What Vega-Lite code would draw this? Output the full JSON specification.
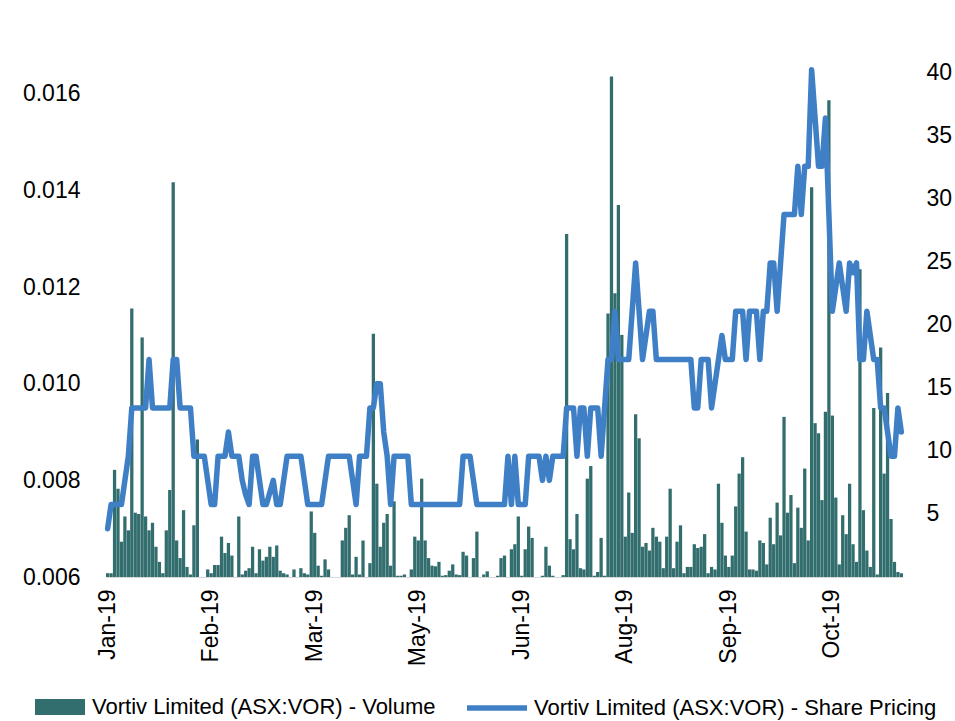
{
  "$schema": "https://vega.github.io/schema/vega-lite/v6.json",
  "width": 797,
  "height": 517,
  "autosize": {"type": "none"},
  "padding": {"left": 106, "top": 60, "right": 52, "bottom": 144},
  "background": "#ffffff",
  "config": {
    "view": {"stroke": null},
    "axis": {"labelFont": "Liberation Sans", "labelFontSize": 23, "labelColor": "#000000", "ticks": false, "grid": false, "domain": false, "title": null},
    "legend": {"labelFont": "Liberation Sans", "labelFontSize": 22, "labelColor": "#000000", "labelLimit": 1000, "padding": 0, "title": null, "orient": "none"}
  },
  "data": {"values": [
    {"i":0,"v":0.3,"p":0.007},{"i":1,"v":0.3,"p":0.0075},{"i":2,"v":8.5,"p":0.0075},{"i":3,"v":7.0,"p":0.0075},{"i":4,"v":2.8,"p":0.0075},
    {"i":5,"v":4.8,"p":0.008},{"i":6,"v":3.7,"p":0.0085},{"i":7,"v":21.3,"p":0.0095},{"i":8,"v":5.1,"p":0.0095},{"i":9,"v":5.0,"p":0.0095},
    {"i":10,"v":19.0,"p":0.0095},{"i":11,"v":4.8,"p":0.0095},{"i":12,"v":3.7,"p":0.0105},{"i":13,"v":4.3,"p":0.0095},{"i":14,"v":2.4,"p":0.0095},
    {"i":15,"v":1.2,"p":0.0095},{"i":16,"v":0.3,"p":0.0095},{"i":17,"v":3.7,"p":0.0095},{"i":18,"v":6.9,"p":0.0095},{"i":19,"v":31.3,"p":0.0105},
    {"i":20,"v":2.9,"p":0.0105},{"i":21,"v":1.5,"p":0.0095},{"i":22,"v":5.3,"p":0.0095},{"i":23,"v":0.8,"p":0.0095},{"i":24,"v":0.2,"p":0.0095},
    {"i":25,"v":4.1,"p":0.0085},{"i":26,"v":10.9,"p":0.0085},{"i":27,"v":0,"p":0.0085},{"i":28,"v":0,"p":0.0085},{"i":29,"v":0.6,"p":0.008},
    {"i":30,"v":0.3,"p":0.0075},{"i":31,"v":0.95,"p":0.0075},{"i":32,"v":0.95,"p":0.0085},{"i":33,"v":3.2,"p":0.0085},{"i":34,"v":1.9,"p":0.0085},
    {"i":35,"v":2.7,"p":0.009},{"i":36,"v":1.7,"p":0.0085},{"i":37,"v":0,"p":0.0085},{"i":38,"v":4.8,"p":0.0085},{"i":39,"v":0.2,"p":0.008},
    {"i":40,"v":0.5,"p":0.0077},{"i":41,"v":0.7,"p":0.0075},{"i":42,"v":2.4,"p":0.0085},{"i":43,"v":0.3,"p":0.0085},{"i":44,"v":2.2,"p":0.008},
    {"i":45,"v":1.3,"p":0.0075},{"i":46,"v":1.6,"p":0.0075},{"i":47,"v":2.4,"p":0.00775},{"i":48,"v":1.6,"p":0.008},{"i":49,"v":2.5,"p":0.0075},
    {"i":50,"v":0.5,"p":0.0075},{"i":51,"v":0.3,"p":0.008},{"i":52,"v":0.2,"p":0.0085},{"i":53,"v":0,"p":0.0085},{"i":54,"v":0.6,"p":0.0085},
    {"i":55,"v":0,"p":0.0085},{"i":56,"v":0.7,"p":0.0085},{"i":57,"v":0.3,"p":0.008},{"i":58,"v":0.2,"p":0.0075},{"i":59,"v":5.2,"p":0.0075},
    {"i":60,"v":3.5,"p":0.0075},{"i":61,"v":0.9,"p":0.0075},{"i":62,"v":0.1,"p":0.0075},{"i":63,"v":1.4,"p":0.008},{"i":64,"v":0.6,"p":0.0085},
    {"i":65,"v":0,"p":0.0085},{"i":66,"v":0,"p":0.0085},{"i":67,"v":0,"p":0.0085},{"i":68,"v":2.9,"p":0.0085},{"i":69,"v":3.9,"p":0.0085},
    {"i":70,"v":4.9,"p":0.0085},{"i":71,"v":0.2,"p":0.008},{"i":72,"v":1.6,"p":0.0075},{"i":73,"v":0.2,"p":0.0085},{"i":74,"v":2.9,"p":0.0085},
    {"i":75,"v":0,"p":0.0085},{"i":76,"v":1.1,"p":0.0095},{"i":77,"v":19.3,"p":0.0095},{"i":78,"v":7.4,"p":0.01},{"i":79,"v":2.4,"p":0.01},
    {"i":80,"v":4.3,"p":0.009},{"i":81,"v":5.0,"p":0.0085},{"i":82,"v":0.9,"p":0.0075},{"i":83,"v":6.0,"p":0.0085},{"i":84,"v":0.1,"p":0.0085},
    {"i":85,"v":0.1,"p":0.0085},{"i":86,"v":0.2,"p":0.0085},{"i":87,"v":0,"p":0.0085},{"i":88,"v":0.6,"p":0.0075},{"i":89,"v":3.2,"p":0.0075},
    {"i":90,"v":2.9,"p":0.0075},{"i":91,"v":7.8,"p":0.0075},{"i":92,"v":2.9,"p":0.0075},{"i":93,"v":1.5,"p":0.0075},{"i":94,"v":0.9,"p":0.0075},
    {"i":95,"v":0.85,"p":0.0075},{"i":96,"v":1.2,"p":0.0075},{"i":97,"v":0.1,"p":0.0075},{"i":98,"v":0.15,"p":0.0075},{"i":99,"v":0.5,"p":0.0075},
    {"i":100,"v":1.0,"p":0.0075},{"i":101,"v":0.2,"p":0.0075},{"i":102,"v":0.15,"p":0.0075},{"i":103,"v":2.0,"p":0.0085},{"i":104,"v":1.7,"p":0.0085},
    {"i":105,"v":0,"p":0.0085},{"i":106,"v":1.5,"p":0.008},{"i":107,"v":3.6,"p":0.0075},{"i":108,"v":0,"p":0.0075},{"i":109,"v":0.2,"p":0.0075},
    {"i":110,"v":0.45,"p":0.0075},{"i":111,"v":0,"p":0.0075},{"i":112,"v":0,"p":0.0075},{"i":113,"v":0.1,"p":0.0075},{"i":114,"v":1.5,"p":0.0075},
    {"i":115,"v":1.7,"p":0.0075},{"i":116,"v":0,"p":0.0085},{"i":117,"v":2.2,"p":0.0075},{"i":118,"v":2.6,"p":0.0085},{"i":119,"v":4.8,"p":0.0075},
    {"i":120,"v":0.1,"p":0.0075},{"i":121,"v":2.2,"p":0.0075},{"i":122,"v":4.0,"p":0.0085},{"i":123,"v":3.1,"p":0.0085},{"i":124,"v":0,"p":0.0085},
    {"i":125,"v":0,"p":0.0085},{"i":126,"v":0.1,"p":0.008},{"i":127,"v":2.4,"p":0.0085},{"i":128,"v":0.9,"p":0.008},{"i":129,"v":0.1,"p":0.0085},
    {"i":130,"v":0,"p":0.0085},{"i":131,"v":0,"p":0.0085},{"i":132,"v":0.15,"p":0.0085},{"i":133,"v":27.2,"p":0.0095},{"i":134,"v":3.0,"p":0.0095},
    {"i":135,"v":2.2,"p":0.0095},{"i":136,"v":5.0,"p":0.0085},{"i":137,"v":0.7,"p":0.0095},{"i":138,"v":0.6,"p":0.0095},{"i":139,"v":7.8,"p":0.0085},
    {"i":140,"v":8.8,"p":0.0095},{"i":141,"v":0.1,"p":0.0095},{"i":142,"v":0.4,"p":0.0095},{"i":143,"v":3.1,"p":0.0085},{"i":144,"v":0.1,"p":0.0095},
    {"i":145,"v":20.9,"p":0.0105},{"i":146,"v":39.7,"p":0.0105},{"i":147,"v":22.5,"p":0.0115},{"i":148,"v":29.5,"p":0.0105},{"i":149,"v":19.2,"p":0.0105},
    {"i":150,"v":3.2,"p":0.0105},{"i":151,"v":6.7,"p":0.0105},{"i":152,"v":3.5,"p":0.0115},{"i":153,"v":12.9,"p":0.0125},{"i":154,"v":11.0,"p":0.0115},
    {"i":155,"v":2.4,"p":0.0105},{"i":156,"v":2.7,"p":0.011},{"i":157,"v":2.1,"p":0.0115},{"i":158,"v":3.9,"p":0.0115},{"i":159,"v":3.2,"p":0.0105},
    {"i":160,"v":2.8,"p":0.0105},{"i":161,"v":0.7,"p":0.0105},{"i":162,"v":3.2,"p":0.0105},{"i":163,"v":7.0,"p":0.0105},{"i":164,"v":0.7,"p":0.0105},
    {"i":165,"v":2.8,"p":0.0105},{"i":166,"v":4.1,"p":0.0105},{"i":167,"v":0.3,"p":0.0105},{"i":168,"v":0.8,"p":0.0105},{"i":169,"v":0.8,"p":0.0105},
    {"i":170,"v":2.6,"p":0.0095},{"i":171,"v":2.3,"p":0.0095},{"i":172,"v":2.4,"p":0.0105},{"i":173,"v":3.4,"p":0.0105},{"i":174,"v":0.3,"p":0.0105},
    {"i":175,"v":0.8,"p":0.0095},{"i":176,"v":0.6,"p":0.01},{"i":177,"v":7.4,"p":0.0105},{"i":178,"v":4.3,"p":0.011},{"i":179,"v":1.7,"p":0.0105},
    {"i":180,"v":0.8,"p":0.0105},{"i":181,"v":1.7,"p":0.0105},{"i":182,"v":5.6,"p":0.0115},{"i":183,"v":8.2,"p":0.0115},{"i":184,"v":9.5,"p":0.0115},
    {"i":185,"v":3.6,"p":0.0105},{"i":186,"v":0.6,"p":0.0115},{"i":187,"v":0.6,"p":0.0115},{"i":188,"v":0.5,"p":0.0115},{"i":189,"v":2.9,"p":0.0105},
    {"i":190,"v":2.7,"p":0.0115},{"i":191,"v":1.0,"p":0.0115},{"i":192,"v":4.7,"p":0.0125},{"i":193,"v":2.6,"p":0.0125},{"i":194,"v":5.9,"p":0.0115},
    {"i":195,"v":3.3,"p":0.0125},{"i":196,"v":12.7,"p":0.0135},{"i":197,"v":5.1,"p":0.0135},{"i":198,"v":6.5,"p":0.0135},{"i":199,"v":1.1,"p":0.0135},
    {"i":200,"v":5.5,"p":0.0145},{"i":201,"v":3.9,"p":0.0135},{"i":202,"v":8.6,"p":0.0145},{"i":203,"v":2.9,"p":0.0145},{"i":204,"v":30.9,"p":0.0165},
    {"i":205,"v":12.2,"p":0.0155},{"i":206,"v":11.4,"p":0.0145},{"i":207,"v":6.1,"p":0.0145},{"i":208,"v":13.1,"p":0.0155},{"i":209,"v":37.8,"p":0.0135},
    {"i":210,"v":12.8,"p":0.0115},{"i":211,"v":6.3,"p":0.012},{"i":212,"v":1.0,"p":0.0125},{"i":213,"v":4.9,"p":0.012},{"i":214,"v":3.4,"p":0.0115},
    {"i":215,"v":7.4,"p":0.0125},{"i":216,"v":2.6,"p":0.0123},{"i":217,"v":1.2,"p":0.0125},{"i":218,"v":24.4,"p":0.0105},{"i":219,"v":5.3,"p":0.0105},
    {"i":220,"v":2.1,"p":0.0115},{"i":221,"v":0.8,"p":0.011},{"i":222,"v":13.4,"p":0.0105},{"i":223,"v":0.2,"p":0.0105},{"i":224,"v":18.2,"p":0.0095},
    {"i":225,"v":8.2,"p":0.0095},{"i":226,"v":14.6,"p":0.009},{"i":227,"v":4.6,"p":0.0085},{"i":228,"v":1.2,"p":0.0085},{"i":229,"v":0.4,"p":0.0095},
    {"i":230,"v":0.3,"p":0.009}
  ]},
  "encoding": {
    "x": {
      "field": "i", "type": "ordinal",
      "scale": {"paddingInner": 0.05, "paddingOuter": 0},
      "axis": {
        "values": [0, 30, 60, 90, 120, 150, 180, 210],
        "labelExpr": "['Jan-19','Feb-19','Mar-19','May-19','Jun-19','Aug-19','Sep-19','Oct-19'][datum.value / 30]",
        "labelAngle": -90, "labelPadding": 12, "domain": true, "domainColor": "#d9d9d9", "domainWidth": 1
      }
    }
  },
  "layer": [
    {
      "mark": {"type": "bar"},
      "encoding": {
        "y": {"field": "v", "type": "quantitative", "scale": {"domain": [0, 41], "nice": false, "zero": true},
              "axis": {"orient": "right", "values": [5, 10, 15, 20, 25, 30, 35, 40], "labelPadding": 23}},
        "color": {"datum": "Vortiv Limited (ASX:VOR) - Volume", "type": "nominal", "scale": {"range": ["#336e6f"]},
                  "legend": {"legendX": -71, "legendY": 622, "symbolType": "M-1,-0.32H1V0.32H-1Z", "symbolSize": 2500, "symbolStrokeWidth": 0, "labelOffset": 7}}
      }
    },
    {
      "mark": {"type": "line", "strokeWidth": 5.5, "strokeJoin": "round", "strokeCap": "round"},
      "encoding": {
        "y": {"field": "p", "type": "quantitative", "scale": {"domain": [0.006, 0.0167], "nice": false, "zero": false},
              "axis": {"orient": "left", "values": [0.006, 0.008, 0.01, 0.012, 0.014, 0.016], "format": ".3f", "labelPadding": 26}},
        "color": {"datum": "Vortiv Limited (ASX:VOR) - Share Pricing", "type": "nominal", "scale": {"range": ["#3f7fc6"]},
                  "legend": {"legendX": 358, "legendY": 615, "symbolType": "stroke", "symbolSize": 3600, "symbolStrokeWidth": 5.5, "labelOffset": 4}}
      }
    }
  ],
  "resolve": {"scale": {"y": "independent", "color": "independent"}, "legend": {"color": "independent"}}
}
